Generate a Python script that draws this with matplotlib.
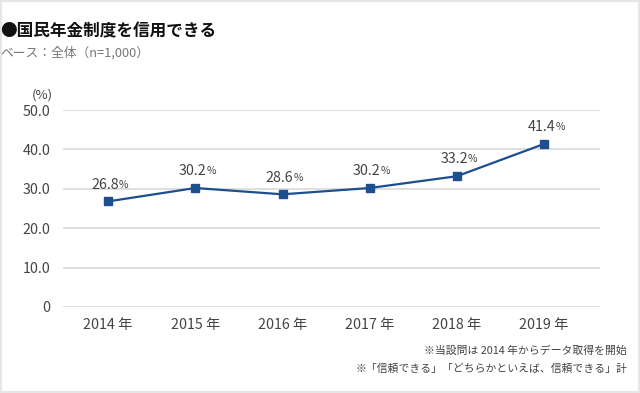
import matplotlib
matplotlib.use("Agg")
import matplotlib.pyplot as plt
from matplotlib.patches import Rectangle

plt.rcParams['font.family'] = ['Noto Sans CJK JP', 'DejaVu Sans']

years = ["2014 年", "2015 年", "2016 年", "2017 年", "2018 年", "2019 年"]
values = [26.8, 30.2, 28.6, 30.2, 33.2, 41.4]
yticks = [0, 10, 20, 30, 40, 50]
ytick_labels = ["0", "10.0", "20.0", "30.0", "40.0", "50.0"]

line_color = "#1f4e8f"
text_color = "#444444"

fig = plt.figure(figsize=(6.4, 3.93), dpi=100)
ax = fig.add_axes([0.098, 0.219, 0.8395, 0.501])

x = list(range(len(years)))
ax.plot(x, values, color=line_color, lw=1.6, marker="s", ms=5.5, zorder=3)

ax.set_ylim(0, 50)
ax.set_xlim(-0.52, 5.64)
ax.set_yticks(yticks)
ax.set_yticklabels(ytick_labels)
ax.set_xticks(x)
ax.set_xticklabels(years)
ax.tick_params(length=0, labelsize=10.3, colors=text_color)
ax.tick_params(axis="y", pad=9)
ax.tick_params(axis="x", pad=8)
ax.grid(axis="y", color="#d9d9d9", lw=1.2)
ax.set_axisbelow(True)
for s in ax.spines.values():
    s.set_visible(False)

fig.canvas.draw()
renderer = fig.canvas.get_renderer()
for xi, v in zip(x, values):
    t = ax.annotate(f"{v:.1f}", (xi, v), xytext=(-2, 7), textcoords="offset points",
                    ha="center", va="bottom", fontsize=10.3, color=text_color)
    bb = t.get_window_extent(renderer)
    xr, yb = fig.transFigure.inverted().transform((bb.x1, bb.y0 + 2))
    fig.text(xr, yb, "%", fontsize=7.5, color=text_color, ha="left", va="bottom")

fig.text(0.0, 0.921, "●国民年金制度を信用できる", fontsize=12, fontweight="bold",
         color="#111111", va="center")
fig.text(0.0, 0.866, "ベース：全体（n=1,000）", fontsize=9.2, color="#777777", va="center")
fig.text(0.05, 0.757, "(%)", fontsize=9.5, color=text_color, va="center")

fig.text(0.980, 0.107, "※当設問は 2014 年からデータ取得を開始", fontsize=7.8,
         color="#444444", ha="right", va="center")
fig.text(0.980, 0.061, "※「信頼できる」「どちらかといえば、信頼できる」計", fontsize=7.8,
         color="#444444", ha="right", va="center")

fig.patches.append(Rectangle((0.001, 0.002), 0.997, 0.995, transform=fig.transFigure,
                             fill=False, edgecolor="#e6e6e6", lw=1.5))

fig.savefig("out.png", dpi=100)
